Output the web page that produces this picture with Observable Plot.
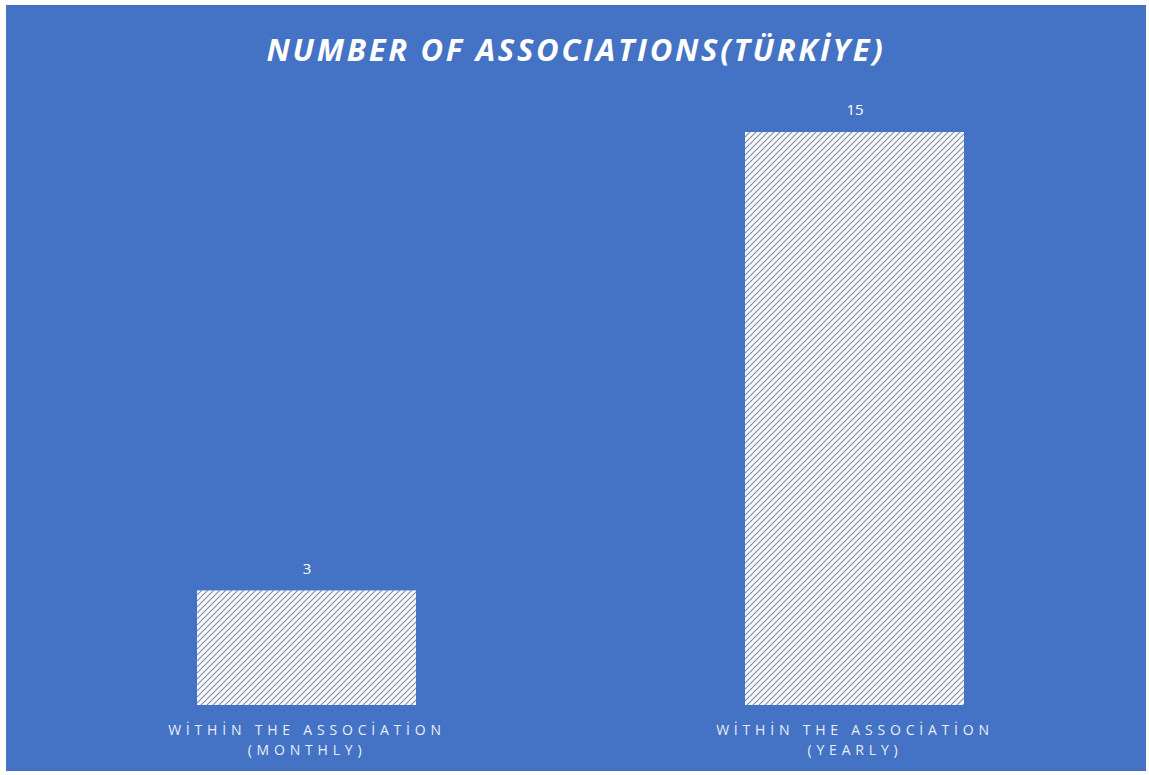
<!DOCTYPE html>
<html>
<head>
<meta charset="utf-8">
<script src="https://cdn.jsdelivr.net/npm/d3@7"></script>
<script src="https://cdn.jsdelivr.net/npm/@observablehq/plot@0.6"></script>
<style>
  html, body { margin: 0; padding: 0; background: #ffffff; }
  #frame {
    position: absolute; left: 6px; top: 5px; width: 1140px; height: 766px;
    background: #4472C4; overflow: hidden;
  }
  #title {
    height: 85px; line-height: 88px; text-align: center; color: #ffffff;
    font-family: "Open Sans", "Liberation Sans", sans-serif; font-weight: 700; font-style: italic;
    font-size: 31px; letter-spacing: 2.7px;
  }
</style>
</head>
<body>
<div id="frame">
  <div id="title">NUMBER OF ASSOCIATIONS(TÜRKİYE)</div>
  <div id="chart"></div>
</div>
<script>
const categories = ["WİTHİN THE ASSOCİATİON\n(MONTHLY)", "WİTHİN THE ASSOCİATİON\n(YEARLY)"];
const values = [3, 15];

const data = categories.map((c, i) => ({category: c, value: values[i]}));

const chart = Plot.plot({
  width: 1140,
  height: 681,
  marginTop: 42,
  marginBottom: 66,
  marginLeft: 26.6,
  marginRight: 17.4,
  style: {background: "transparent", color: "#ffffff", fontFamily: "'Open Sans', 'Liberation Sans', sans-serif"},
  x: {domain: categories, padding: 0.6, paddingOuter: 0.3, label: null},
  y: {domain: [0, 15], axis: null},
  marks: [
    Plot.barY(data, {x: "category", y: "value", fill: "url(#hatch)"}),
    Plot.text(data, {x: "category", y: "value", text: d => String(d.value), dy: -22, fill: "#ffffff", fontSize: 15}),
    Plot.axisX({tickSize: 0, tickPadding: 15, fontSize: 14, lineHeight: 1.45, fill: "#e8eef8"})
  ]
});

const svg = d3.select(chart);
const defs = svg.insert("defs", ":first-child");
const pat = defs.append("pattern")
  .attr("id", "hatch").attr("patternUnits", "userSpaceOnUse")
  .attr("width", 6).attr("height", 6);
pat.append("rect").attr("width", 6).attr("height", 6).attr("fill", "#f6f8fc");
pat.append("path")
  .attr("d", "M-1,1 L1,-1 M0,6 L6,0 M5,7 L7,5")
  .attr("stroke", "#8792a6").attr("stroke-width", 1.2);

svg.selectAll("[aria-label='x-axis tick label'] text").style("letter-spacing", "4.8px");

document.getElementById("chart").appendChild(chart);
</script>
</body>
</html>
